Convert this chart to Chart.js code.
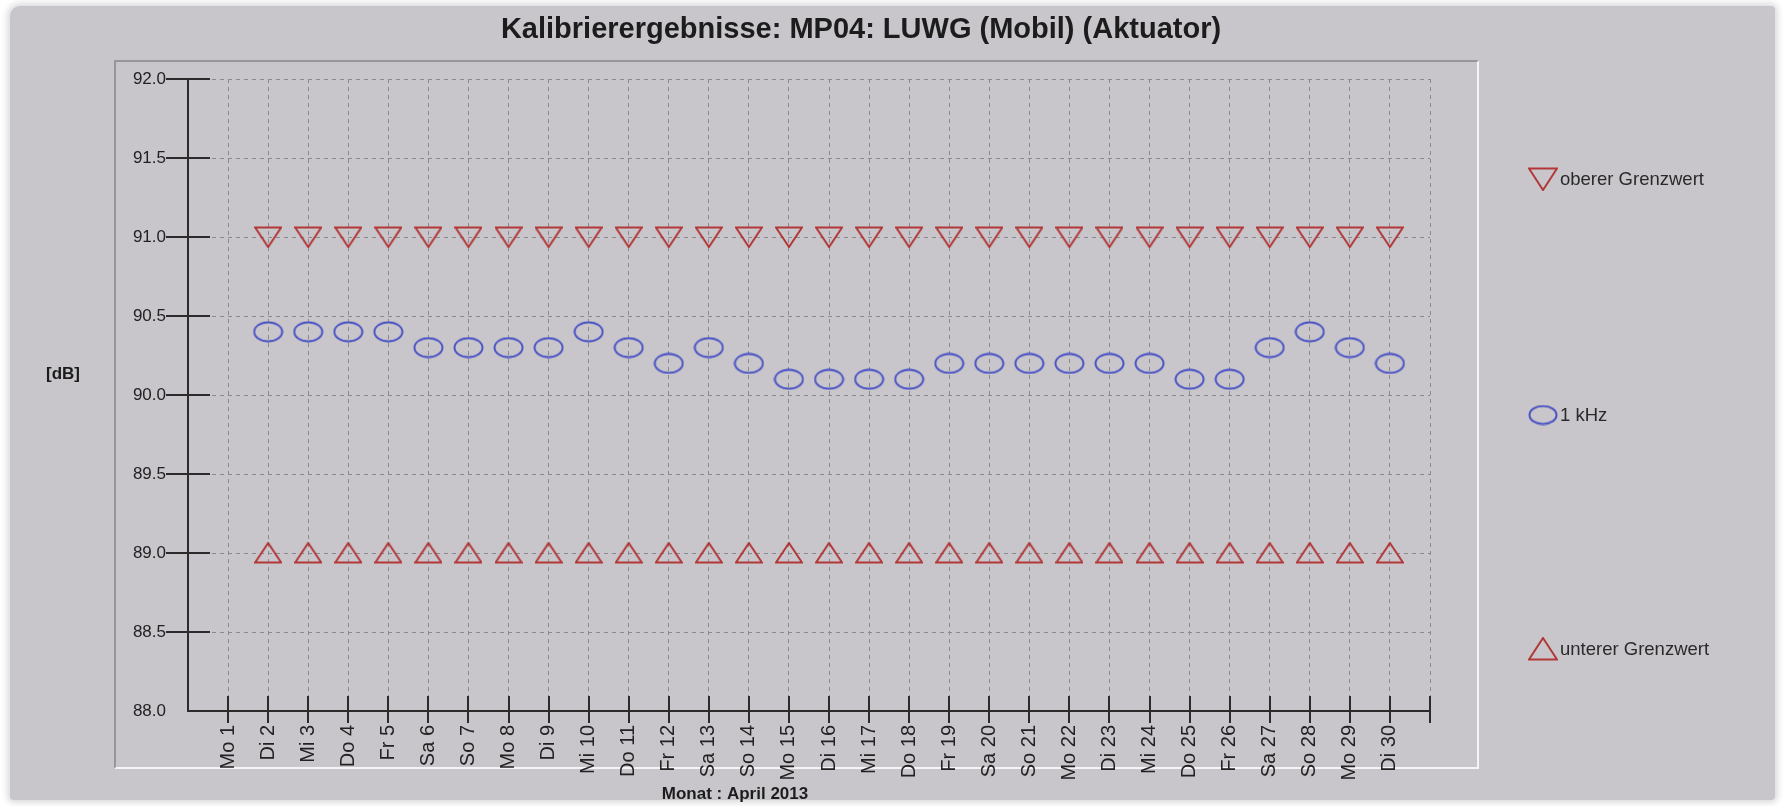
<!DOCTYPE html>
<html>
<head>
<meta charset="utf-8">
<script src="https://cdn.jsdelivr.net/npm/chart.js@4.4.1/dist/chart.umd.min.js"></script>
<style>
  html, body { margin: 0; padding: 0; background: #fff; }
  #panel { position: absolute; left: 10px; top: 6px; width: 1765px; height: 794px; background: #c8c6cb;
           border-radius: 10px 4px 4px 4px; box-shadow: 0 0 6px 3px #dcdcde; }
  #box { position: absolute; left: 114px; top: 60px; width: 1361px; height: 705px;
         border-top: 2px solid #98969c; border-left: 2px solid #98969c;
         border-right: 2px solid #f4f4f6; border-bottom: 2px solid #f4f4f6; }
  #chart { position: absolute; left: 0; top: 0; }
</style>
</head>
<body>
<div id="panel"></div>
<div id="box"></div>
<canvas id="chart" width="1786" height="806"></canvas>
<script>
// Kalibrierergebnisse April 2013, one value per day (day 1 has no measurement)
const xLabels = ['Mo 1', 'Di 2', 'Mi 3', 'Do 4', 'Fr 5', 'Sa 6', 'So 7', 'Mo 8', 'Di 9', 'Mi 10',
  'Do 11', 'Fr 12', 'Sa 13', 'So 14', 'Mo 15', 'Di 16', 'Mi 17', 'Do 18', 'Fr 19', 'Sa 20',
  'So 21', 'Mo 22', 'Di 23', 'Mi 24', 'Do 25', 'Fr 26', 'Sa 27', 'So 28', 'Mo 29', 'Di 30'];
const days = [1, 2, 3, 4, 5, 6, 7, 8, 9, 10, 11, 12, 13, 14, 15, 16, 17, 18, 19, 20,
  21, 22, 23, 24, 25, 26, 27, 28, 29, 30];
const obererGrenzwert = [null, 91.0, 91.0, 91.0, 91.0, 91.0, 91.0, 91.0, 91.0, 91.0,
  91.0, 91.0, 91.0, 91.0, 91.0, 91.0, 91.0, 91.0, 91.0, 91.0,
  91.0, 91.0, 91.0, 91.0, 91.0, 91.0, 91.0, 91.0, 91.0, 91.0];
const kHz1 = [null, 90.4, 90.4, 90.4, 90.4, 90.3, 90.3, 90.3, 90.3, 90.4,
  90.3, 90.2, 90.3, 90.2, 90.1, 90.1, 90.1, 90.1, 90.2, 90.2,
  90.2, 90.2, 90.2, 90.2, 90.1, 90.1, 90.3, 90.4, 90.3, 90.2];
const untererGrenzwert = [null, 89.0, 89.0, 89.0, 89.0, 89.0, 89.0, 89.0, 89.0, 89.0,
  89.0, 89.0, 89.0, 89.0, 89.0, 89.0, 89.0, 89.0, 89.0, 89.0,
  89.0, 89.0, 89.0, 89.0, 89.0, 89.0, 89.0, 89.0, 89.0, 89.0];
const seriesNames = ['oberer Grenzwert', '1 kHz', 'unterer Grenzwert'];

const FONT = '"Liberation Sans", Arial, sans-serif';
const RED = '#b23838';
const BLUE = '#4a52c4';

// marker images (ellipse isn't a built-in point style)
function marker(kind, w, h, color) {
  const c = document.createElement('canvas');
  c.width = w; c.height = h;
  const g = c.getContext('2d');
  g.strokeStyle = color;
  g.lineWidth = 2;
  g.beginPath();
  if (kind === 'down') {
    g.moveTo(1, 1.5); g.lineTo(w - 1, 1.5); g.lineTo(w / 2, h - 1); g.closePath();
  } else if (kind === 'up') {
    g.moveTo(w / 2, 1); g.lineTo(w - 1, h - 1.5); g.lineTo(1, h - 1.5); g.closePath();
  } else {
    g.ellipse(w / 2, h / 2, w / 2 - 1.5, h / 2 - 1.5, 0, 0, Math.PI * 2);
  }
  g.stroke();
  return c;
}
const markers = [marker('down', 28, 22, RED), marker('ellipse', 31, 22, BLUE), marker('up', 28, 22, RED)];
const legendMarkers = [marker('down', 30, 24, RED), marker('ellipse', 30, 21, BLUE), marker('up', 30, 24, RED)];

function points(vals) {
  return days.map((d, i) => ({ x: d, y: vals[i] }));
}

const decor = {
  id: 'decor',
  beforeDatasetsDraw(chart) {
    const { ctx, chartArea: a, scales: { x, y } } = chart;
    ctx.save();
    ctx.strokeStyle = '#2b2b2b';
    ctx.lineWidth = 2;
    ctx.beginPath();
    ctx.moveTo(a.left, a.top); ctx.lineTo(a.left, a.bottom); ctx.lineTo(a.right, a.bottom);
    y.ticks.forEach(t => {
      if (t.value <= y.min) return;
      const py = Math.round(y.getPixelForValue(t.value));
      ctx.moveTo(a.left - 22, py); ctx.lineTo(a.left + 22, py);
    });
    x.ticks.forEach(t => {
      if (t.value < 1) return;
      const px = Math.round(x.getPixelForValue(t.value));
      ctx.moveTo(px, a.bottom - 15); ctx.lineTo(px, a.bottom + 12);
    });
    ctx.stroke();
    ctx.restore();
  },
  afterDraw(chart) {
    const { ctx } = chart;
    ctx.save();
    ctx.fillStyle = '#1c1c1c';
    ctx.textBaseline = 'middle';
    ctx.textAlign = 'center';
    ctx.font = 'bold 29px ' + FONT;
    ctx.fillText('Kalibrierergebnisse: MP04: LUWG (Mobil) (Aktuator)', 861, 30);
    ctx.font = 'bold 17px ' + FONT;
    ctx.fillText('[dB]', 63, 374);
    ctx.fillText('Monat : April 2013', 735, 794);
    // legend
    const legendY = [179, 415, 649];
    ctx.textAlign = 'left';
    ctx.font = '18.5px ' + FONT;
    ctx.fillStyle = '#2a2a2a';
    seriesNames.forEach((name, i) => {
      const m = legendMarkers[i];
      ctx.drawImage(m, 1543 - m.width / 2, legendY[i] - m.height / 2);
      ctx.fillText(name, 1560, legendY[i] + 1);
    });
    ctx.restore();
  }
};

new Chart(document.getElementById('chart'), {
  type: 'scatter',
  data: {
    datasets: [
      { label: seriesNames[0], data: points(obererGrenzwert), pointStyle: markers[0] },
      { label: seriesNames[1], data: points(kHz1), pointStyle: markers[1] },
      { label: seriesNames[2], data: points(untererGrenzwert), pointStyle: markers[2] }
    ]
  },
  options: {
    responsive: false,
    animation: false,
    devicePixelRatio: 1,
    layout: { padding: { top: 79, right: 356, left: 0, bottom: 0 } },
    plugins: { legend: { display: false }, title: { display: false }, tooltip: { enabled: false } },
    elements: { point: { radius: 12 } },
    datasets: { scatter: { clip: false } },
    scales: {
      x: {
        type: 'linear',
        min: 0,
        max: 31,
        afterFit: s => { s.height = 95; },
        ticks: {
          stepSize: 1,
          autoSkip: false,
          maxRotation: 90,
          minRotation: 90,
          padding: 14,
          color: '#222',
          font: { family: FONT, size: 20 },
          callback: v => (v >= 1 && v <= xLabels.length) ? xLabels[v - 1] : ''
        },
        grid: { color: '#8a8a8a', lineWidth: 1, drawTicks: false },
        border: { display: false, dash: [4, 4] }
      },
      y: {
        min: 88,
        max: 92,
        afterFit: s => { s.width = 188; },
        ticks: {
          stepSize: 0.5,
          padding: 22,
          color: '#222',
          font: { family: FONT, size: 17 },
          callback: v => v.toFixed(1)
        },
        grid: { color: '#8a8a8a', lineWidth: 1, drawTicks: false },
        border: { display: false, dash: [4, 4] }
      }
    }
  },
  plugins: [decor]
});
</script>
</body>
</html>
